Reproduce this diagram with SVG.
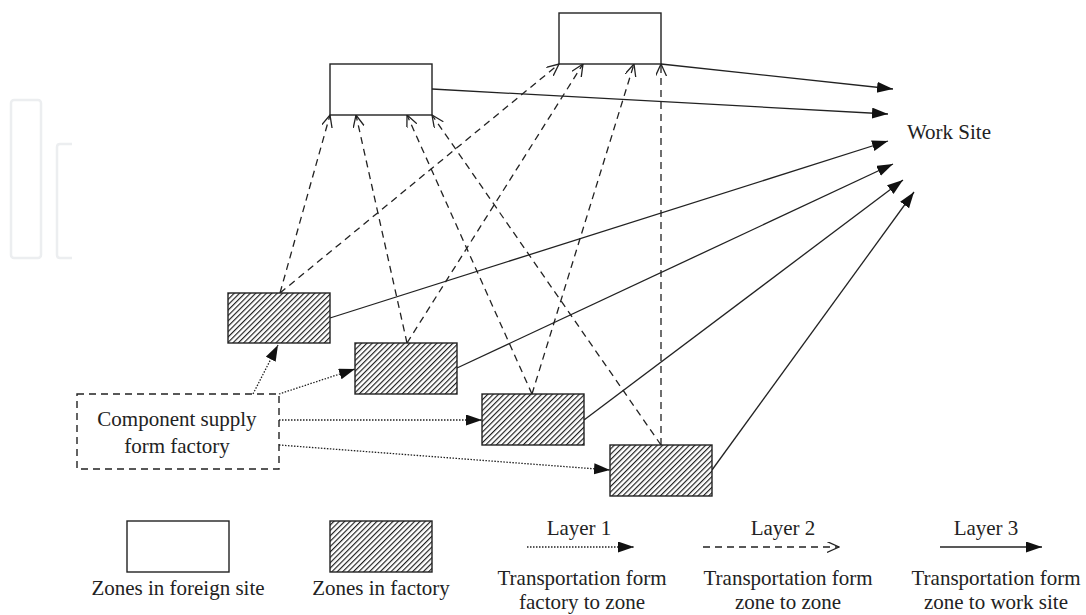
<svg xmlns="http://www.w3.org/2000/svg" width="1086" height="615" viewBox="0 0 1086 615">
<style>
.box{fill:#fff;stroke:#222;stroke-width:1.4}
.hatch{fill:url(#hp);stroke:#222;stroke-width:1.4}
.comp{fill:none;stroke:#222;stroke-width:1.4;stroke-dasharray:7,5}
.l1{fill:none;stroke:#222;stroke-width:1.3;stroke-dasharray:1.5,1.5;marker-end:url(#fa)}
.l2{fill:none;stroke:#222;stroke-width:1.3;stroke-dasharray:7,5;marker-end:url(#oa)}
.l3{fill:none;stroke:#222;stroke-width:1.3;marker-end:url(#fa)}
text{font-family:"Liberation Serif","Times New Roman",serif;font-size:21px;fill:#222;text-anchor:middle}
.wm{fill:none;stroke:#eceef0;stroke-width:2.5}
</style>
<defs>
<pattern id="hp" patternUnits="userSpaceOnUse" width="3.8" height="4" patternTransform="rotate(45)">
<rect width="4" height="4" fill="#fff"/>
<line x1="0.6" y1="0" x2="0.6" y2="4" stroke="#111" stroke-width="1.1"/>
</pattern>
<marker id="fa" markerUnits="userSpaceOnUse" markerWidth="18" markerHeight="12" refX="16" refY="5.5" orient="auto">
<path d="M0,0 L16,5.5 L0,11 z" fill="#111"/>
</marker>
<marker id="oa" markerUnits="userSpaceOnUse" markerWidth="13" markerHeight="12" refX="12" refY="5.5" orient="auto">
<path d="M0,0 L12,5.5 L0,11" fill="none" stroke="#222" stroke-width="1.3"/>
</marker>
</defs>
<g id="watermark">
<rect class="wm" x="11" y="100" width="30" height="158" rx="3"/>
<path class="wm" d="M72,144 L60,144 Q57,144 57,147 L57,255 Q57,258 60,258 L72,258"/>
</g>
<g id="connectors">
<line class="l2" x1="280" y1="293" x2="330" y2="115"/>
<line class="l2" x1="280" y1="293" x2="559" y2="64"/>
<line class="l2" x1="407" y1="343" x2="356" y2="115"/>
<line class="l2" x1="407" y1="343" x2="583" y2="64"/>
<line class="l2" x1="532" y1="394" x2="407" y2="115"/>
<line class="l2" x1="532" y1="394" x2="634" y2="64"/>
<line class="l2" x1="661" y1="445" x2="432" y2="115"/>
<line class="l2" x1="661" y1="445" x2="661" y2="64"/>
<line class="l3" x1="661" y1="64" x2="893" y2="89"/>
<line class="l3" x1="432" y1="89" x2="888" y2="114"/>
<line class="l3" x1="330" y1="318" x2="888" y2="141"/>
<line class="l3" x1="457" y1="368" x2="893" y2="164"/>
<line class="l3" x1="584" y1="420" x2="903" y2="180"/>
<line class="l3" x1="712" y1="470" x2="914" y2="192"/>
<line class="l1" x1="253" y1="394" x2="278" y2="345"/>
<line class="l1" x1="279" y1="394" x2="355" y2="369"/>
<line class="l1" x1="279" y1="420" x2="482" y2="420"/>
<line class="l1" x1="279" y1="445" x2="610" y2="470"/>
</g>
<g id="foreign1"><rect class="box" x="330" y="64" width="102" height="51"/></g>
<g id="foreign2"><rect class="box" x="559" y="13" width="102" height="51"/></g>
<g id="factory1"><rect class="hatch" x="228" y="293" width="102" height="50"/></g>
<g id="factory2"><rect class="hatch" x="355" y="343" width="102" height="51"/></g>
<g id="factory3"><rect class="hatch" x="482" y="394" width="102" height="51"/></g>
<g id="factory4"><rect class="hatch" x="610" y="445" width="102" height="51"/></g>
<g id="component">
<rect class="comp" x="77" y="394" width="202" height="75"/>
<text x="177" y="426">Component supply</text>
<text x="177" y="453">form factory</text>
</g>
<g id="worksite"><text x="949" y="139">Work Site</text></g>
<g id="legend">
<rect class="box" x="127" y="521" width="102" height="51"/>
<text x="178" y="595">Zones in foreign site</text>
<rect class="hatch" x="330" y="521" width="102" height="51"/>
<text x="381" y="595">Zones in factory</text>
<text x="579" y="535">Layer 1</text>
<line class="l1" x1="527" y1="547" x2="634" y2="547"/>
<text x="582" y="585">Transportation form</text>
<text x="582" y="609">factory to zone</text>
<text x="783" y="535">Layer 2</text>
<line class="l2" x1="703" y1="547" x2="839" y2="547"/>
<text x="788" y="585">Transportation form</text>
<text x="788" y="609">zone to zone</text>
<text x="986" y="535">Layer 3</text>
<line class="l3" x1="940" y1="547" x2="1042" y2="547"/>
<text x="996" y="585">Transportation form</text>
<text x="996" y="609">zone to work site</text>
</g>
</svg>
